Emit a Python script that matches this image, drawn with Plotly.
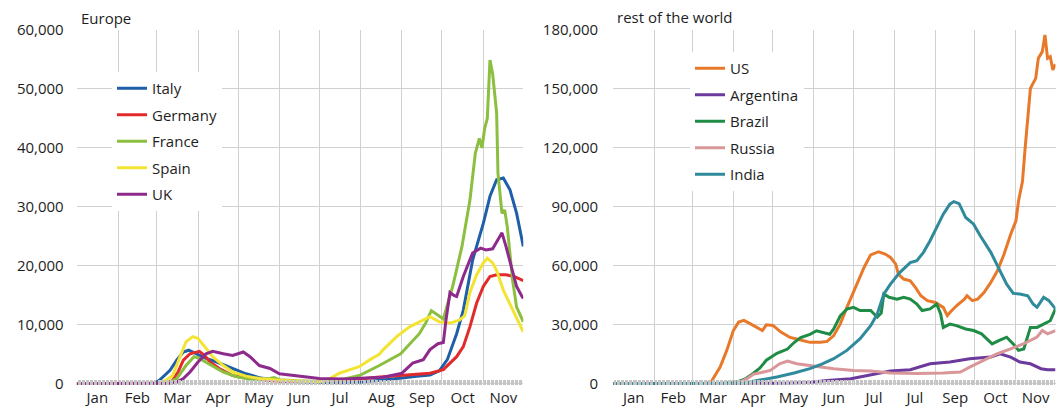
import pandas as pd
import plotly.graph_objects as go

START = pd.Timestamp("2020-01-01")

# daily new cases (7-day average), x given as days since 1 Jan 2020
ITALY_DAYS = [0, 50, 58, 62, 66, 70, 75, 80, 84, 90, 97, 105, 112, 120, 127, 137, 152, 175, 200, 215,
              230, 244, 255, 265, 272, 278, 285, 290, 297, 305, 310, 315, 320, 325, 330, 335]
ITALY = [0, 0, 100, 600, 1400, 2300, 4000, 5400, 5700, 5100, 4300, 3700, 3100, 2300, 1700, 1050, 500, 250, 200, 300,
         600, 1000, 1300, 1500, 2200, 4100, 8500, 12500, 21000, 27200, 31800, 34600, 34900, 32900, 28900, 23300]

GERMANY_DAYS = [0, 60, 68, 72, 76, 80, 85, 92, 96, 100, 107, 117, 130, 147, 165, 182, 200, 213, 225, 240,
                255, 265, 275, 280, 285, 290, 295, 300, 305, 310, 315, 322, 328, 335]
GERMANY = [0, 30, 150, 600, 2000, 4000, 5100, 5500, 4800, 3700, 2600, 1400, 900, 500, 400, 450, 600, 800, 1100, 1400,
           1600, 1800, 2400, 3500, 4600, 6300, 9700, 13700, 16500, 18200, 18500, 18500, 18200, 17500]

FRANCE_DAYS = [0, 60, 70, 75, 82, 88, 92, 97, 102, 110, 120, 132, 145, 148, 152, 165, 182, 200, 212, 227,
               243, 257, 262, 266, 270, 275, 282, 289, 295, 299, 302, 304, 306, 308, 310, 312, 315, 316,
               319, 321, 323, 325, 327, 330, 334, 335]
FRANCE = [0, 50, 300, 900, 3100, 4600, 4300, 3700, 3100, 2000, 1200, 700, 900, 1050, 700, 500, 400, 800, 1400, 3100,
          5100, 8500, 10400, 12400, 11800, 11000, 16500, 23300, 31200, 39100, 41600, 40000, 43300, 45000, 54900, 52600, 45900, 35700,
          28900, 29500, 26600, 22000, 17500, 13000, 11000, 10500]

SPAIN_DAYS = [0, 55, 62, 67, 72, 77, 82, 87, 91, 96, 102, 110, 117, 127, 137, 152, 170, 182, 190, 197,
              205, 212, 220, 227, 230, 240, 250, 260, 265, 272, 280, 287, 291, 295, 300, 305, 308, 312,
              315, 320, 325, 330, 335]
SPAIN = [0, 0, 100, 600, 1400, 4300, 7100, 8000, 7700, 6300, 4600, 3100, 2000, 1300, 900, 600, 400, 300, 900, 1800,
         2400, 2900, 4100, 5000, 5800, 8000, 9700, 10800, 11400, 10500, 10300, 10800, 11500, 15500, 18500, 20500, 21300, 20500,
         19200, 15900, 13600, 11300, 8800]

UK_DAYS = [0, 60, 70, 75, 80, 85, 91, 97, 102, 110, 117, 125, 130, 137, 145, 152, 165, 182, 200, 215,
           230, 244, 252, 260, 265, 271, 275, 277, 280, 283, 285, 290, 297, 303, 307, 312, 317, 319,
           322, 326, 330, 334, 335]
UK = [0, 20, 100, 300, 900, 2000, 3700, 5100, 5500, 5100, 4800, 5400, 4600, 3100, 2600, 1700, 1300, 900, 800, 900,
      1100, 1800, 3500, 4100, 5800, 6800, 7000, 10800, 15500, 15000, 14800, 18200, 22200, 23000, 22700, 22900, 25000, 25600,
      23300, 19900, 16500, 14800, 14500]

US_DAYS = [0, 60, 70, 74, 78, 81, 86, 91, 95, 99, 104, 109, 113, 116, 121, 127, 134, 142, 149, 157,
           162, 167, 172, 177, 182, 185, 190, 195, 201, 206, 210, 214, 216, 220, 225, 229, 233, 238, 244, 250,
           253, 255, 260, 266, 268, 272, 276, 281, 286, 291, 296, 301, 305, 307, 310, 312, 316, 320, 322, 325,
           327, 329, 331, 333, 335]
US = [0, 0, 300, 800, 5000, 8500, 17000, 27100, 31400, 32300, 30500, 28800, 27100, 30000, 29700, 26300, 23600, 22300, 21100, 21100,
      21600, 24500, 30500, 38900, 46500, 50800, 59200, 65600, 67200, 66000, 64300, 60900, 55800, 53300, 52400, 49000, 44800, 42300, 41400, 38900,
      34700, 36300, 39700, 43100, 44800, 42300, 43100, 46500, 51600, 57500, 65900, 76000, 82800, 93000, 103000, 119900, 150300, 155400, 165600, 169000,
      177500, 165600, 166400, 159700, 162600]

ARGENTINA_DAYS = [0, 100, 130, 150, 162, 180, 187, 200, 210, 225, 240, 255, 270, 286, 293, 301, 308, 316, 324, 329, 335]
ARGENTINA = [0, 0, 300, 800, 1700, 2600, 3500, 5200, 6500, 7200, 10200, 11100, 12800, 13600, 15300, 13600, 11100, 10200, 7700, 7200, 7200]

BRAZIL_DAYS = [0, 80, 94, 100, 106, 111, 116, 124, 132, 137, 142, 149, 154, 159, 164, 167, 172, 177, 182, 187,
               195, 200, 203, 205, 209, 215, 220, 225, 230, 234, 240, 245, 248, 250, 255, 260, 267, 273, 279, 283,
               287, 292, 298, 303, 307, 311, 316, 321, 326, 331, 335]
BRAZIL = [0, 0, 1000, 2500, 5300, 8000, 12000, 15500, 17700, 21000, 23500, 25200, 27000, 26000, 25200, 27900, 34600, 38000, 38900, 37300,
          37300, 33900, 36000, 45700, 44000, 43100, 44000, 43100, 40600, 37300, 38100, 40600, 35500, 28700, 30400, 29600, 27900, 27100, 25400, 22900,
          20300, 22000, 23700, 20300, 17000, 17700, 28700, 28700, 30400, 32100, 38100]

RUSSIA_DAYS = [0, 85, 96, 101, 106, 112, 119, 126, 132, 139, 147, 157, 167, 182, 195, 210, 230, 250, 263, 270,
               281, 291, 301, 311, 321, 325, 329, 335]
RUSSIA = [0, 0, 900, 2500, 4800, 5800, 6800, 10200, 11600, 10200, 9400, 8500, 7700, 6800, 6500, 5500, 5200, 5500, 6000, 8500,
          11900, 15300, 17800, 20400, 23800, 27100, 25400, 27100]

INDIA_DAYS = [0, 60, 90, 100, 111, 124, 137, 149, 158, 167, 177, 187, 195, 200, 205, 210, 217, 225, 230, 235,
              240, 245, 250, 255, 258, 262, 267, 273, 278, 286, 292, 298, 303, 308, 314, 318, 321, 324, 326, 330, 335]
INDIA = [0, 0, 300, 500, 1800, 3500, 5500, 7700, 10000, 12800, 17000, 23000, 29600, 35500, 45700, 50700, 56600, 61700, 62600, 66900,
         72800, 79500, 86300, 91400, 92700, 91700, 84600, 81200, 75300, 66900, 59200, 50700, 46000, 45700, 44800, 40600, 38900, 42000, 44000, 42300, 38100]

EUROPE = [
    ("Italy", ITALY_DAYS, ITALY, "#1f5ea8"),
    ("Germany", GERMANY_DAYS, GERMANY, "#e32a2a"),
    ("France", FRANCE_DAYS, FRANCE, "#8cbf3f"),
    ("Spain", SPAIN_DAYS, SPAIN, "#f3e433"),
    ("UK", UK_DAYS, UK, "#8e2a8c"),
]
WORLD = [
    ("US", US_DAYS, US, "#e8782a"),
    ("Argentina", ARGENTINA_DAYS, ARGENTINA, "#6b3a9c"),
    ("Brazil", BRAZIL_DAYS, BRAZIL, "#1e8c45"),
    ("Russia", RUSSIA_DAYS, RUSSIA, "#d9979a"),
    ("India", INDIA_DAYS, INDIA, "#2f8a9c"),
]

FONT = "Open Sans"
TXT = "#1e1e1e"
GRID = "#d0d0d0"
W, H = 1064, 408
OFF = 8                      # the page body adds an 8px margin; positions below are page pixels
PLOT_TOP, PLOT_BOTTOM = 30, 385
T = PLOT_TOP - OFF
B = H - (PLOT_BOTTOM - OFF)


def px_x(px):
    return (px - OFF) / W


def px_y(px):
    return (PLOT_BOTTOM - px) / (PLOT_BOTTOM - PLOT_TOP)


def to_dates(days):
    return START + pd.to_timedelta(days, unit="D")


fig = go.Figure()
for group, xa, ya, leg in [(EUROPE, "x", "y", "legend"), (WORLD, "x2", "y2", "legend2")]:
    for name, days, vals, color in group:
        assert len(days) == len(vals), name
        fig.add_trace(go.Scatter(
            x=to_dates(days), y=vals, name=name, mode="lines",
            line=dict(color=color, width=3),
            xaxis=xa, yaxis=ya, legend=leg, legendgroup=name,
        ))


def x_axis(domain, alias=None):
    return dict(
        domain=domain, type="date", range=["2020-01-01", "2020-12-01"],
        tick0="2020-01-01", dtick="M1", tickformat="%b", ticklabelmode="period",
        labelalias=alias or {},
        showgrid=True, gridcolor=GRID, gridwidth=1, ticks="", showline=False,
        zeroline=False, automargin=False, ticklabelstandoff=2,
        tickfont=dict(size=15, color=TXT, family=FONT),
        minor=dict(dtick=86400000, tick0="2020-01-01", ticks="inside", ticklen=5,
                   tickcolor="#c4c4c4", tickwidth=1, showgrid=False),
    )


def y_axis(top, step, anchor, standoff):
    return dict(
        range=[-top / 300, top], tickvals=list(range(0, top + 1, step)),
        tickformat=",", showgrid=True, gridcolor=GRID, gridwidth=1,
        zeroline=False, showline=False, ticks="", automargin=False,
        ticklabelstandoff=standoff, anchor=anchor,
        tickfont=dict(size=15, color=TXT, family=FONT),
    )


def legend(x_px, y_px):
    return dict(
        x=px_x(x_px), y=px_y(y_px), xanchor="left", yanchor="top",
        bgcolor="white", borderwidth=0, tracegroupgap=4, itemwidth=30,
        font=dict(size=15, color=TXT, family=FONT),
    )


def title(text, x_px, y_px):
    return dict(text=text, x=px_x(x_px), y=px_y(y_px), xref="paper", yref="paper",
                xanchor="left", yanchor="middle", showarrow=False,
                font=dict(size=15, color=TXT, family=FONT))


fig.update_layout(
    width=W, height=H,
    margin=dict(l=0, r=0, t=T, b=B),
    paper_bgcolor="white", plot_bgcolor="white",
    font=dict(family=FONT, color=TXT),
    showlegend=True,
    xaxis=x_axis([px_x(76.7), px_x(523.3)]),
    yaxis=y_axis(60000, 10000, "x", 12),
    xaxis2=x_axis([px_x(613.2), px_x(1055.5)], {"Aug": "Jul"}),
    yaxis2=y_axis(180000, 30000, "x2", 14),
    legend=legend(112, 72),
    legend2=legend(690, 52),
    annotations=[
        title("Europe", 79, 18),
        title("rest of the world", 615, 17),
    ],
)

fig.write_html("out.html")
